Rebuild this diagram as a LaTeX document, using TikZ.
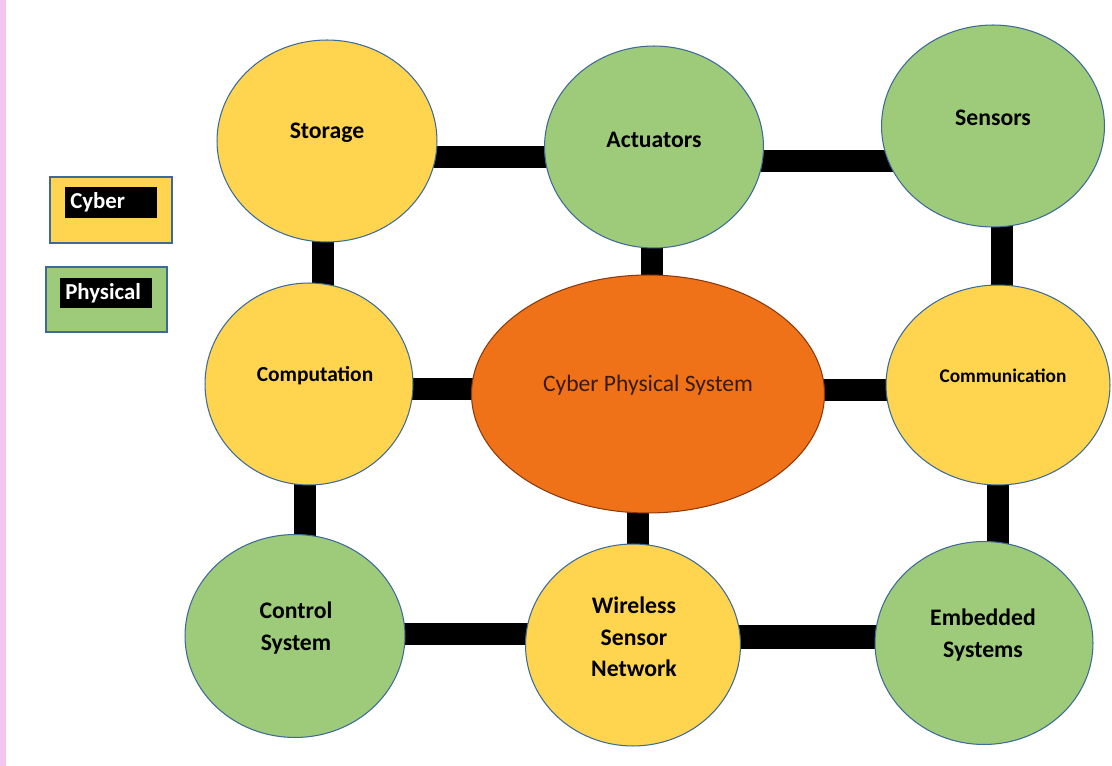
\documentclass[tikz,border=0pt]{standalone}
\usepackage{fontspec}
\setmainfont{Carlito}
\usetikzlibrary{shapes.geometric,backgrounds}
\definecolor{cyb}{HTML}{FFD54F}
\definecolor{phy}{HTML}{9DCB79}
\definecolor{cpsc}{HTML}{EF7118}
\definecolor{edgeblue}{HTML}{3E6A98}
\definecolor{cpsedge}{HTML}{8A3A0E}
\definecolor{cpstext}{HTML}{3A1A0A}
\definecolor{pinkedge}{HTML}{F4C6EF}
\tikzset{
  blob/.style={ellipse, draw=edgeblue, line width=0.6pt, inner sep=0pt,
               minimum width=4.4cm, minimum height=4.04cm},
  cyberblob/.style={blob, fill=cyb},
  physblob/.style={blob, fill=phy},
  lbl/.style={font=\fontsize{13.5}{17.8}\selectfont\bfseries, align=center, text=black, inner sep=0pt},
  bar/.style={line width=12pt, black},
  keybox/.style={draw=edgeblue, line width=0.8pt, inner sep=0pt},
  keytag/.style={fill=black, text=white, inner sep=0pt, inner xsep=3pt, align=left,
                 font=\fontsize{13}{15}\selectfont\bfseries},
}
\begin{document}
\begin{tikzpicture}[x=0.02cm,y=-0.02cm]
\useasboundingbox (0,0) rectangle (1112,766);

% circles
\node[cyberblob, minimum width=4.4cm, minimum height=4.04cm] (storage) at (327,141) {};
\node[physblob, minimum width=4.38cm, minimum height=4.04cm] (actuators) at (654,147) {};
\node[physblob, minimum width=4.46cm, minimum height=4.04cm] (sensors) at (993,126) {};
\node[cyberblob, minimum width=4.16cm, minimum height=4.04cm] (computation) at (309,384) {};
\node[ellipse, fill=cpsc, draw=cpsedge, line width=0.6pt, inner sep=0pt,
      minimum width=7.06cm, minimum height=4.76cm] (cps) at (648,394) {};
\node[cyberblob, minimum width=4.48cm, minimum height=4.0cm] (communication) at (998,385) {};
\node[physblob, minimum width=4.4cm, minimum height=4.06cm] (control) at (295,636) {};
\node[cyberblob, minimum width=4.3cm, minimum height=4.04cm] (wsn) at (633,645) {};
\node[physblob, minimum width=4.36cm, minimum height=4.06cm] (embedded) at (984,643) {};

% labels
\node[lbl] (storage-t) at (327,133) {Storage};
\node[lbl] (actuators-t) at (654,140) {Actuators};
\node[lbl] (sensors-t) at (993,118) {Sensors};
\node[lbl, font=\fontsize{12.2}{17.8}\selectfont\bfseries] (computation-t) at (315,376) {Computation};
\node[lbl, font=\fontsize{13.4}{17.8}\selectfont, text=cpstext] (cps-t) at (648,385) {Cyber Physical System};
\node[lbl, font=\fontsize{11}{17.8}\selectfont\bfseries] (communication-t) at (1003,376) {Communication};
\node[lbl] (control-t) at (296,628) {Control\\System};
\node[lbl] (wsn-t) at (634,637) {Wireless\\Sensor\\Network};
\node[lbl] (embedded-t) at (983,635) {Embedded\\Systems};

% connectors
\begin{scope}[on background layer]
  \fill[pinkedge] (0,0) rectangle (6,766);
  \draw[bar] (storage.center |- 0,157) -- (actuators.center |- 0,157);
  \draw[bar] (actuators.center |- 0,161) -- (sensors.center |- 0,161);
  \draw[bar] (storage.center -| 323,0) -- (computation.center -| 323,0);
  \draw[bar] (actuators.center -| 652,0) -- (cps.center -| 652,0);
  \draw[bar] (sensors.center -| 1002,0) -- (communication.center -| 1002,0);
  \draw[bar] (computation.center |- 0,389) -- (cps.center |- 0,389);
  \draw[bar] (cps.center |- 0,390) -- (communication.center |- 0,390);
  \draw[bar] (computation.center -| 305,0) -- (control.center -| 305,0);
  \draw[bar] (cps.center -| 638,0) -- (wsn.center -| 638,0);
  \draw[bar] (communication.center -| 998,0) -- (embedded.center -| 998,0);
  \draw[bar] (control.center |- 0,634) -- (wsn.center |- 0,634);
  \draw[bar, line width=14pt] (wsn.center |- 0,637) -- (embedded.center |- 0,637);
\end{scope}

% legend
\node[keybox, fill=cyb, minimum width=2.44cm, minimum height=1.32cm] (cyberkey) at (111,210) {};
\node[keytag, text width=1.84cm-6pt, minimum height=0.62cm] (cyberkey-t) at (111,202.5) {Cyber};
\node[keybox, fill=phy, minimum width=2.42cm, minimum height=1.3cm] (physkey) at (106.5,299.5) {};
\node[keytag, text width=1.84cm-6pt, minimum height=0.6cm] (physkey-t) at (106,293) {Physical};
\end{tikzpicture}
\end{document}
